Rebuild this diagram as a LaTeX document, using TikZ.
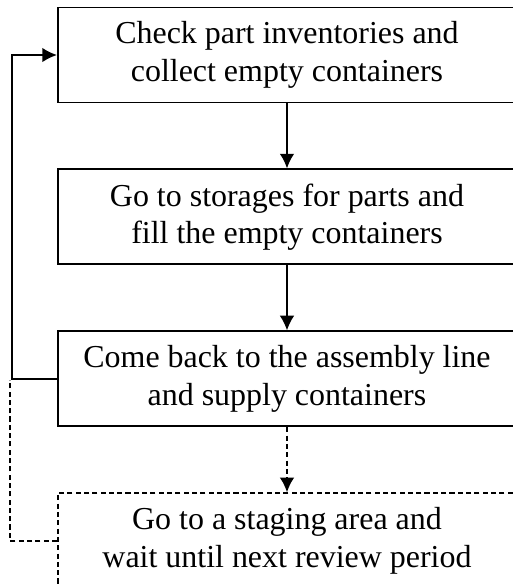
\documentclass[tikz,border=0pt]{standalone}
\usepackage{fontspec}
\setmainfont{Liberation Serif}
\usepackage{tikz}
\usetikzlibrary{positioning, arrows.meta}
\tikzset{
>={Latex[length=4.6pt, width=4.6pt]}, % filled arrow heads
node distance=0.715cm, % gap between two steps
every node/.style={font=\fontsize{10}{11.7}\selectfont},
stepbox/.style={draw, semithick, align=center, minimum width=5.04cm, minimum height=1.045cm, inner sep=0pt}, % one step of the loop
waitbox/.style={stepbox, dash pattern=on 1.6pt off 1pt}, % optional step
dashline/.style={semithick, dash pattern=on 1.6pt off 1pt},
}

\begin{document}
\begin{tikzpicture}
            \useasboundingbox (-3.157,0.605) rectangle (2.475,-5.819);
            \node[stepbox] (check) {Check part inventories and\\collect empty containers};
            \node[stepbox, below=of check] (fill) {Go to storages for parts and\\fill the empty containers};
            \node[stepbox, below=of fill] (supply) {Come back to the assembly line\\and supply containers};
            \node[waitbox, below=of supply] (wait) {Go to a staging area and\\wait until next review period};
            \coordinate (back) at (-3.025,0);
            \coordinate (idle) at (-3.047,-3.575);
            \draw[->, semithick] (check) -- (fill);
            \draw[->, semithick] (fill) -- (supply);
            \draw[->, dashline] (supply) -- (wait);
            % back to the start
            \draw[->, semithick] (supply.west) -| (back) -- (check.west);
            \draw[dashline] (wait.west) -| (idle);
        \end{tikzpicture}
\end{document}
